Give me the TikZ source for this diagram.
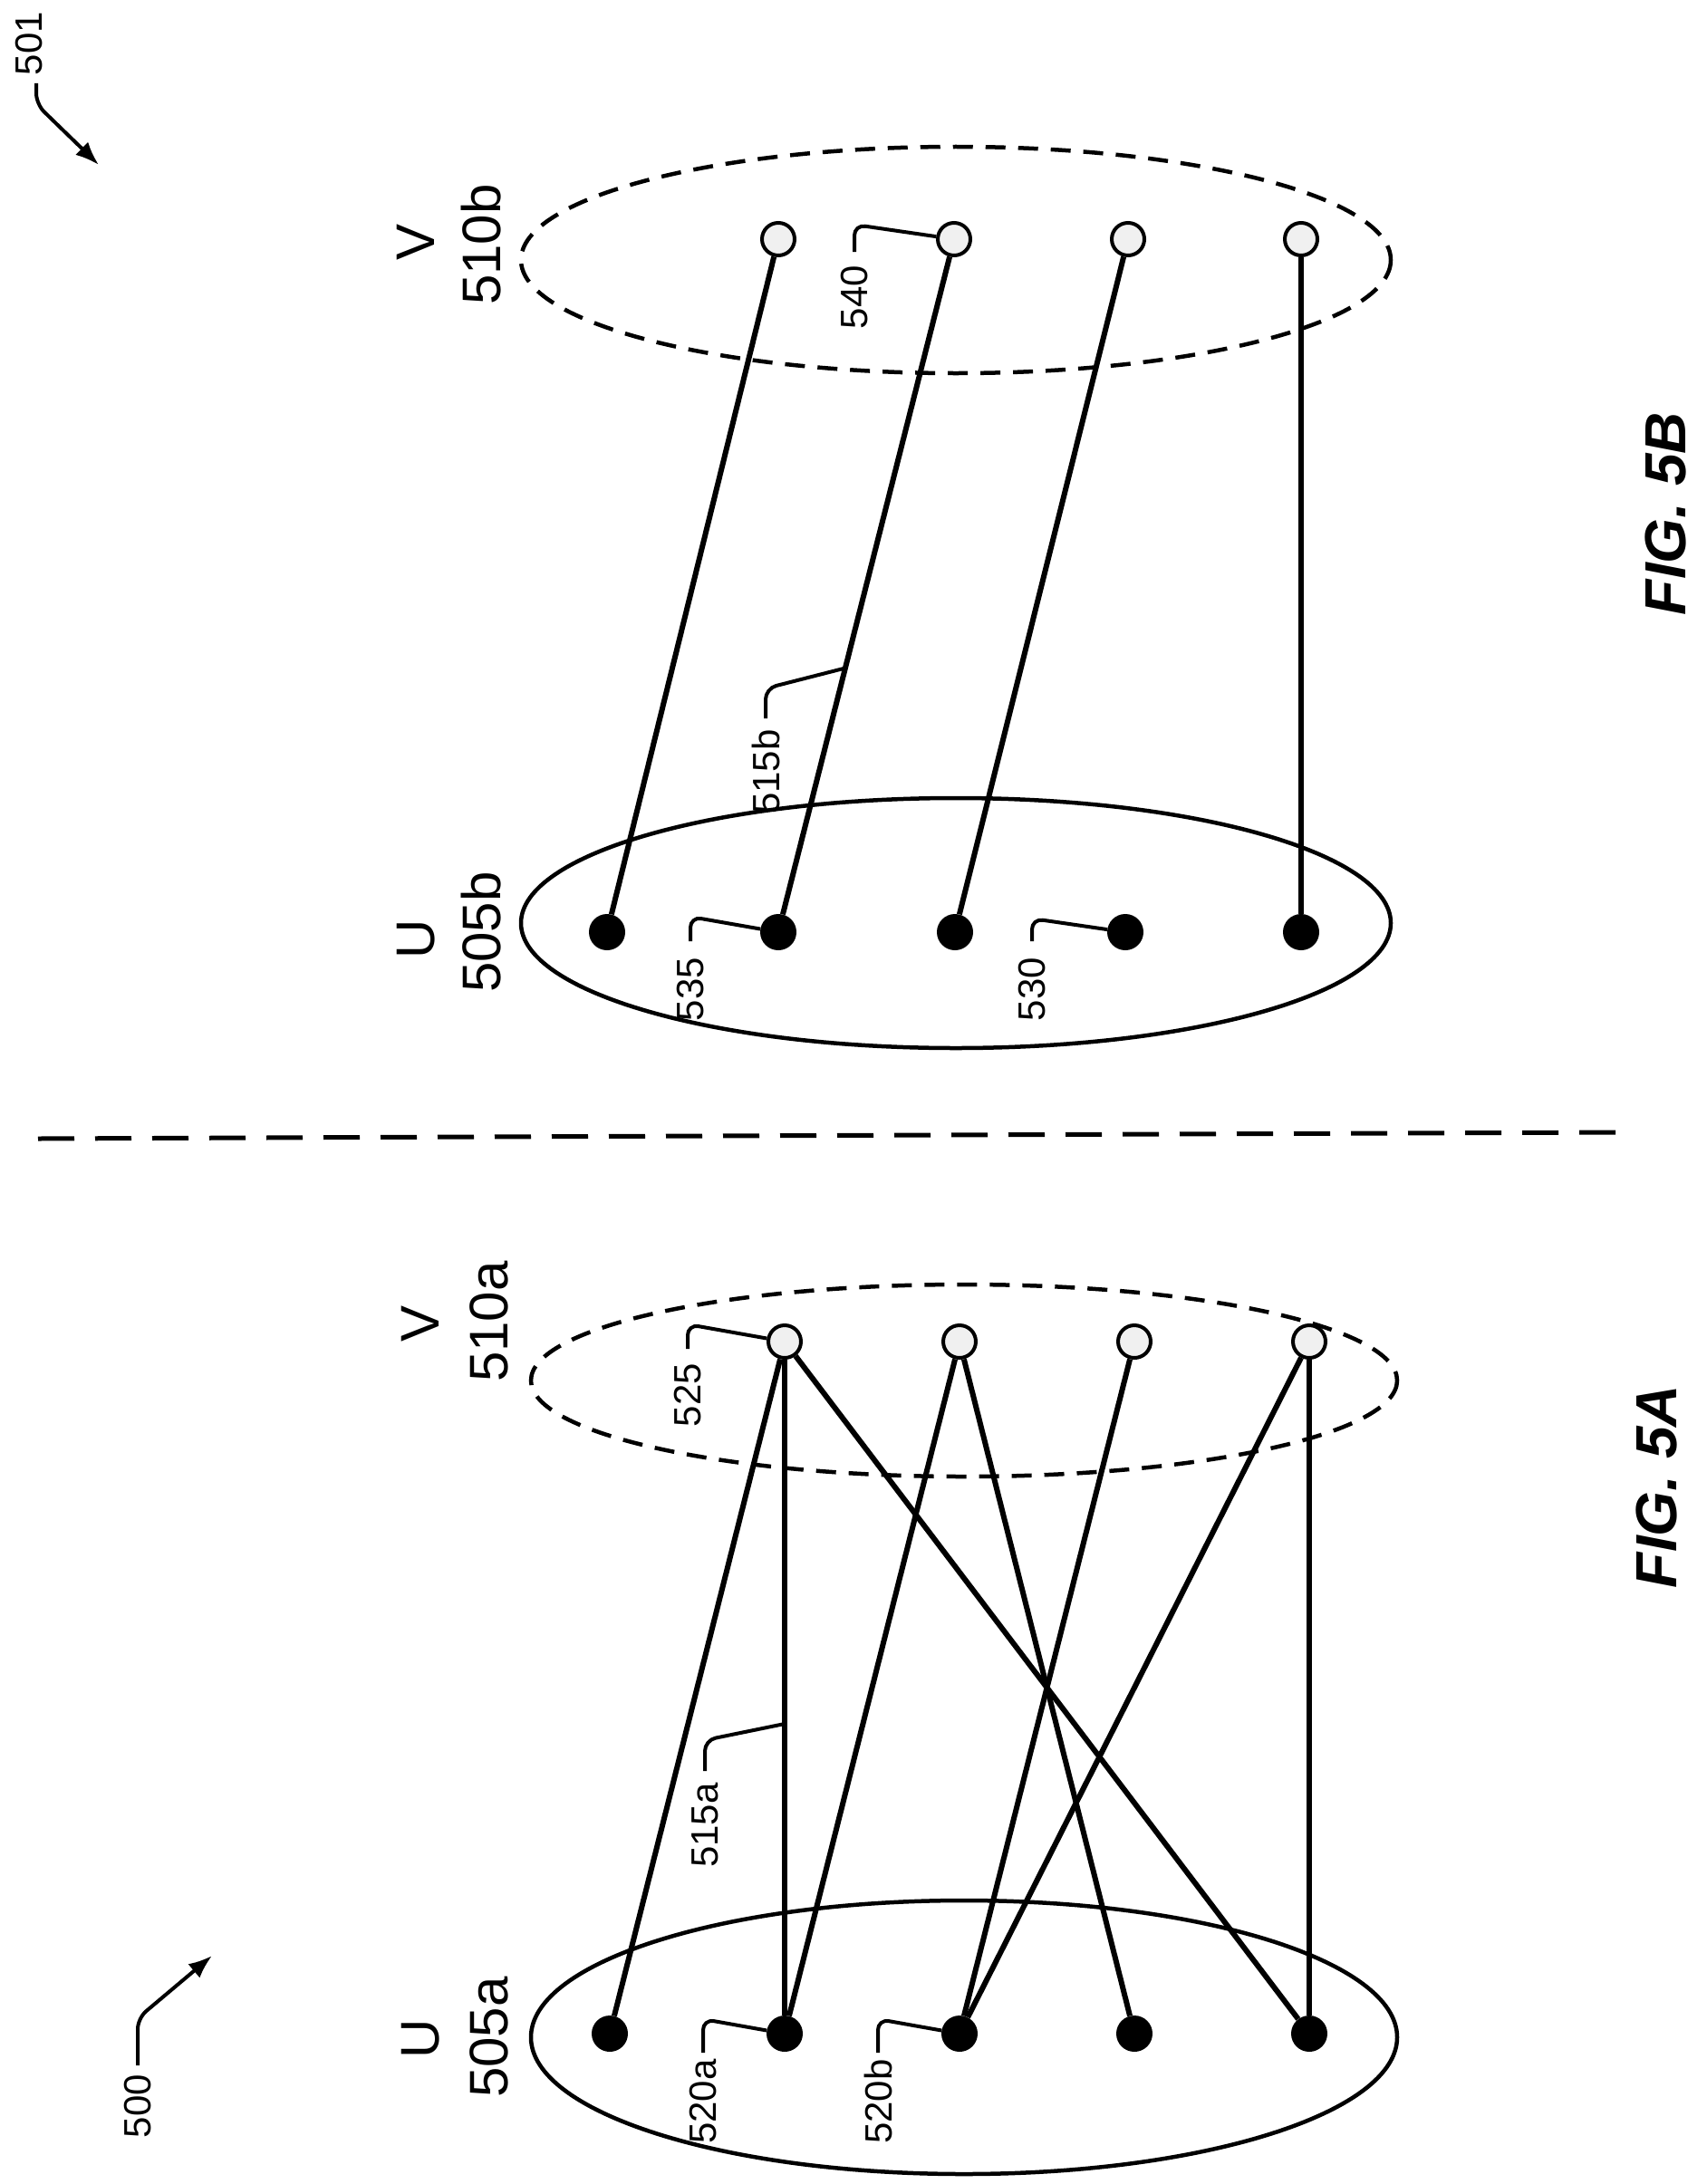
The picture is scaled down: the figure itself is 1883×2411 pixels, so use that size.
\documentclass[tikz,border=0pt]{standalone}
\usepackage{fontspec}
\setmainfont{Liberation Sans}
\usetikzlibrary{arrows.meta}
\tikzset{
  unode/.style={circle,fill=black,inner sep=0pt,minimum size=40pt},
  vnode/.style={circle,draw=black,line width=4pt,fill=gray!12,inner sep=0pt,minimum size=36pt},
  edge/.style={line width=6pt},
  setU/.style={line width=4.5pt},
  setV/.style={line width=4.5pt,dash pattern=on 22pt off 14pt},
  lead/.style={line width=4pt,rounded corners=12pt},
  small/.style={rotate=90,font=\fontsize{42}{42}\selectfont},
  big/.style={rotate=90,font=\fontsize{60}{60}\selectfont},
  fig/.style={rotate=90,font=\fontsize{64}{64}\selectfont\bfseries\itshape},
}
\begin{document}
\begin{tikzpicture}[x=1pt,y=-1pt]
\useasboundingbox (0,0) rectangle (1883,2411);
% ---------- FIG 5A ----------
\draw[setV] (1064,1524) ellipse [x radius=478,y radius=106];
\draw[setU] (1064,2249) ellipse [x radius=478,y radius=151];
\foreach \i/\x in {1/673,2/866,3/1059,4/1252,5/1445}
  \node[unode] (au\i) at (\x,2245) {};
\foreach \i/\x in {1/866,2/1059,3/1252,4/1445}
  \node[vnode] (av\i) at (\x,1481) {};
\draw[edge] (au1) -- (av1);
\draw[edge] (au2) -- (av1);
\draw[edge] (au2) -- (av2);
\draw[edge] (au3) -- (av3);
\draw[edge] (au3) -- (av4);
\draw[edge] (au4) -- (av2);
\draw[edge] (au5) -- (av1);
\draw[edge] (au5) -- (av4);
\node[big] (lU5a) at (464,2251) {U};
\node[big] (l505a) at (540,2249) {505a};
\node[big] (lV5a) at (464,1461) {V};
\node[big] (l510a) at (540,1459) {510a};
\coordinate (p515a) at (866,1903);
\draw[lead] (p515a) -- (778,1921) -- (778,1955);
\node[small] (t515a) at (778,2015) {515a};
\draw[lead] (av1) -- (759,1462) -- (759,1489);
\node[small] (t525) at (759,1540) {525};
\draw[lead] (au2) -- (776,2229) -- (776,2266);
\node[small] (t520a) at (776,2320) {520a};
\draw[lead] (au3) -- (969,2229) -- (969,2266);
\node[small] (t520b) at (969,2320) {520b};
\node[small] (t500) at (152,2325) {500};
\coordinate (a500) at (234,2159);
\draw[lead,-{Latex[length=26pt,width=20pt]}] (152,2280) -- (152,2228) -- (a500);
\node[fig] (f5a) at (1828,1641) {FIG. 5A};
% divider
\draw[line width=5pt,dash pattern=on 40pt off 23pt] (42,1257) -- (1786,1250);
% ---------- FIG 5B ----------
\draw[setV] (1055,287) ellipse [x radius=480,y radius=125];
\draw[setU] (1055,1019) ellipse [x radius=480,y radius=138];
\foreach \i/\x in {1/670,2/859,3/1054,4/1242,5/1436}
  \node[unode] (bu\i) at (\x,1029) {};
\foreach \i/\x in {1/859,2/1053,3/1245,4/1436}
  \node[vnode] (bv\i) at (\x,264) {};
\draw[edge] (bu1) -- (bv1);
\draw[edge] (bu2) -- (bv2);
\draw[edge] (bu3) -- (bv3);
\draw[edge] (bu5) -- (bv4);
\node[big] (lU5b) at (459,1037) {U};
\node[big] (l505b) at (531,1029) {505b};
\node[big] (lV5b) at (459,267) {V};
\node[big] (l510b) at (531,270) {510b};
\coordinate (p515b) at (931,738);
\draw[lead] (p515b) -- (845,760) -- (845,793);
\node[small] (t515b) at (845,852) {515b};
\draw[lead] (bv2) -- (943,248) -- (943,278);
\node[small] (t540) at (943,328) {540};
\draw[lead] (bu2) -- (762,1012) -- (762,1039);
\node[small] (t535) at (762,1092) {535};
\draw[lead] (bu4) -- (1139,1014) -- (1139,1039);
\node[small] (t530) at (1139,1092) {530};
\node[small] (t501) at (32,48) {501};
\coordinate (a501) at (109,182);
\draw[lead,-{Latex[length=26pt,width=20pt]}] (40,92) -- (40,115) -- (a501);
\node[fig] (f5b) at (1838,567) {FIG. 5B};
\end{tikzpicture}
\end{document}
